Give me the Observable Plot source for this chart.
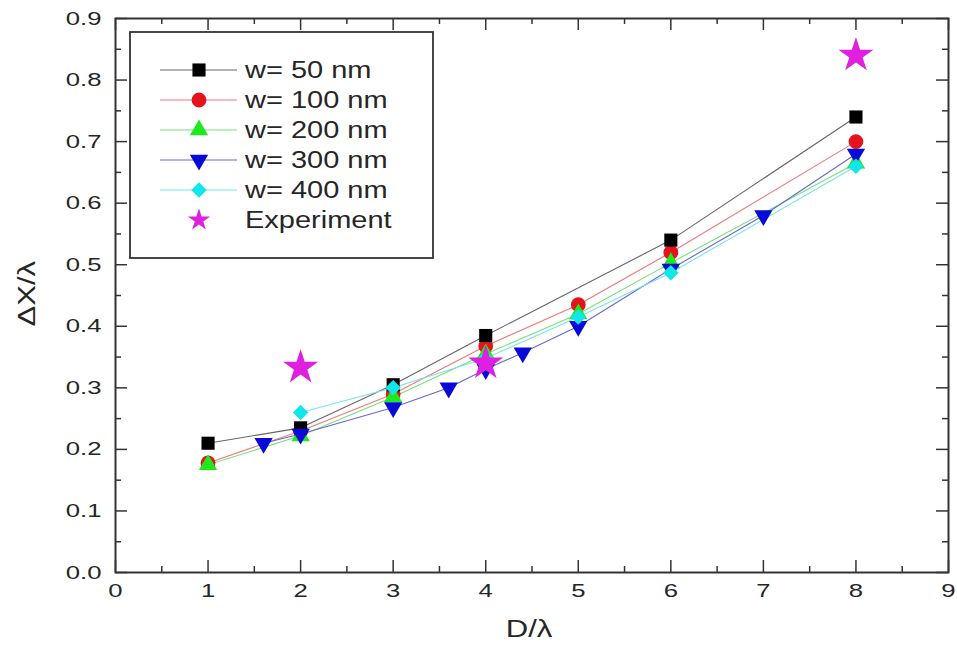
<!DOCTYPE html>
<html><head><meta charset="utf-8">
<script src="https://cdn.jsdelivr.net/npm/d3@7"></script>
<script src="https://cdn.jsdelivr.net/npm/@observablehq/plot@0.6"></script>
<style>
body{margin:0;background:#fff;font-family:"Liberation Sans",Arial,sans-serif}
</style>
</head><body><div id="chart"></div>
<script>
// ---- data ----
const seriesNames = ["w= 50 nm","w= 100 nm","w= 200 nm","w= 300 nm","w= 400 nm","Experiment"];
const markerColors = ["#000000","#e4141c","#1ee81e","#0a0ad8","#12e6ea","#e020e0"];
const lineColors   = ["#666666","#f07878","#78e078","#6868d0","#78e4e8","#e020e0"];
const symbols      = ["square","circle","triangle","triangle","diamond2","star"];

const w50x  = [1, 2, 3, 4, 6, 8];
const w50y  = [0.21, 0.235, 0.305, 0.385, 0.54, 0.74];
const w100x = [1, 2, 3, 4, 5, 6, 8];
const w100y = [0.178, 0.23, 0.29, 0.368, 0.435, 0.52, 0.70];
const w200x = [1, 2, 3, 4, 5, 6, 8];
const w200y = [0.175, 0.222, 0.285, 0.355, 0.42, 0.503, 0.665];
const w300x = [1.6, 2, 3, 3.6, 4, 4.4, 5, 6, 7, 8];
const w300y = [0.21, 0.225, 0.268, 0.30, 0.33, 0.357, 0.40, 0.493, 0.58, 0.68];
const w400x = [2, 3, 4, 5, 6, 8];
const w400y = [0.26, 0.30, 0.348, 0.415, 0.487, 0.66];
const expX  = [2, 4, 8];
const expY  = [0.333, 0.34, 0.84];

const xTicks = [0,1,2,3,4,5,6,7,8,9];
const xMinor = [0.5,1.5,2.5,3.5,4.5,5.5,6.5,7.5,8.5];
const yTicks = [0,0.1,0.2,0.3,0.4,0.5,0.6,0.7,0.8,0.9];
const yMinor = [0.05,0.15,0.25,0.35,0.45,0.55,0.65,0.75,0.85];

// ---- build tables ----
const xs = [w50x,w100x,w200x,w300x,w400x,expX];
const ys = [w50y,w100y,w200y,w300y,w400y,expY];
const rows = [];
xs.forEach((arr, i) => arr.forEach((x, j) => rows.push({series: seriesNames[i], x, y: ys[i][j]})));
const lineRows = rows.filter(d => d.series !== "Experiment");
// marker drawing order seen in the picture
const drawOrder = ["w= 100 nm","w= 200 nm","w= 50 nm","w= 300 nm","w= 400 nm","Experiment"];
const sizeOf = {"w= 50 nm":7.4,"w= 100 nm":7.4,"w= 200 nm":6.8,"w= 300 nm":6.8,"w= 400 nm":7.0,"Experiment":11};

const W = 957, H = 646;
const mT = 18, mR = 9, mB = 74, mL = 115;
const ph = H - mT - mB, pw = W - mL - mR;
const axisColor = "#333";
const textColor = "#262626";

const dotMarks = drawOrder.map(s => {
  const i = seriesNames.indexOf(s);
  return Plot.dot(rows.filter(d => d.series === s), {
    x: "x", y: "y", symbol: symbols[i], fill: markerColors[i], r: sizeOf[s],
    rotate: s === "w= 300 nm" ? 180 : 0, stroke: "none"
  });
});

const chart = Plot.plot({
  width: W, height: H,
  marginTop: mT, marginRight: mR, marginBottom: mB, marginLeft: mL,
  style: {fontFamily: "'Liberation Sans', Arial, sans-serif", fontSize: "19px", color: textColor, background: "#fff"},
  x: {domain: [0, 9], label: null},
  y: {domain: [0, 0.9], label: null},
  color: {domain: seriesNames, range: lineColors},
  marks: [
    Plot.axisX(xTicks, {tickSize: 0, tickPadding: 11, tickFormat: d3.format("d"), fontSize: 19, fill: textColor}),
    Plot.axisY(yTicks, {tickSize: 0, tickPadding: 14, tickFormat: d3.format(".1f"), fontSize: 19, fill: textColor}),
    // inward ticks on all four sides
    Plot.tickX(xTicks, {x: d => d, insetTop: ph - 12, stroke: axisColor, strokeWidth: 1.5}),
    Plot.tickX(xMinor, {x: d => d, insetTop: ph - 6, stroke: axisColor, strokeWidth: 1.5}),
    Plot.tickX(xTicks, {x: d => d, insetBottom: ph - 12, stroke: axisColor, strokeWidth: 1.5}),
    Plot.tickX(xMinor, {x: d => d, insetBottom: ph - 6, stroke: axisColor, strokeWidth: 1.5}),
    Plot.tickY(yTicks, {y: d => d, insetRight: pw - 12, stroke: axisColor, strokeWidth: 1.5}),
    Plot.tickY(yMinor, {y: d => d, insetRight: pw - 6, stroke: axisColor, strokeWidth: 1.5}),
    Plot.tickY(yTicks, {y: d => d, insetLeft: pw - 12, stroke: axisColor, strokeWidth: 1.5}),
    Plot.tickY(yMinor, {y: d => d, insetLeft: pw - 6, stroke: axisColor, strokeWidth: 1.5}),
    Plot.frame({stroke: axisColor, strokeWidth: 2}),
    Plot.line(lineRows, {x: "x", y: "y", z: "series", stroke: "series", strokeWidth: 1.1}),
    ...dotMarks,
    Plot.text(["D/λ"], {frameAnchor: "bottom", dy: 64, dx: -3, fontSize: 23, fill: textColor}),
    Plot.text(["ΔX/λ"], {frameAnchor: "left", dx: -88, dy: 31, rotate: -90, fontSize: 23, fill: textColor})
  ]
});
document.getElementById("chart").appendChild(chart);

// the reference's lettering is horizontally wide: stretch glyphs to match
function stretch(sel, f) {
  sel.each(function() {
    const L = this.getComputedTextLength();
    if (L > 0) {
      this.setAttribute("textLength", (L * f).toFixed(1));
      this.setAttribute("lengthAdjust", "spacingAndGlyphs");
    }
  });
}
const svg = d3.select(chart);
stretch(svg.selectAll("text"), 1.35);

// ---- legend drawn into the same svg ----
const lg = svg.append("g").attr("class", "legend").attr("text-anchor", "start");
lg.append("rect").attr("x", 130).attr("y", 32).attr("width", 303).attr("height", 226)
  .attr("fill", "#fff").attr("stroke", axisColor).attr("stroke-width", 1.8);
const symMap = {square: d3.symbolSquare, circle: d3.symbolCircle, triangle: d3.symbolTriangle, diamond2: d3.symbolDiamond2, star: d3.symbolStar};
seriesNames.forEach((name, i) => {
  const cy = 70 + i * 30;
  const g = lg.append("g").attr("transform", `translate(0,${cy})`);
  if (name !== "Experiment") {
    g.append("line").attr("x1", 160).attr("x2", 237).attr("y1", 0).attr("y2", 0)
      .attr("stroke", lineColors[i]).attr("stroke-width", 1.2);
  }
  const r = name === "Experiment" ? 7 : sizeOf[name];
  g.append("path")
    .attr("d", d3.symbol(symMap[symbols[i]], Math.PI * r * r)())
    .attr("transform", `translate(199,0) rotate(${name === "w= 300 nm" ? 180 : 0})`)
    .attr("fill", markerColors[i]);
  g.append("text").attr("x", 245).attr("y", 0).attr("dy", "0.36em")
    .attr("text-anchor", "start")
    .attr("font-size", 23).attr("fill", textColor).text(name);
});
stretch(lg.selectAll("text"), 1.26);
</script>
</body></html>
